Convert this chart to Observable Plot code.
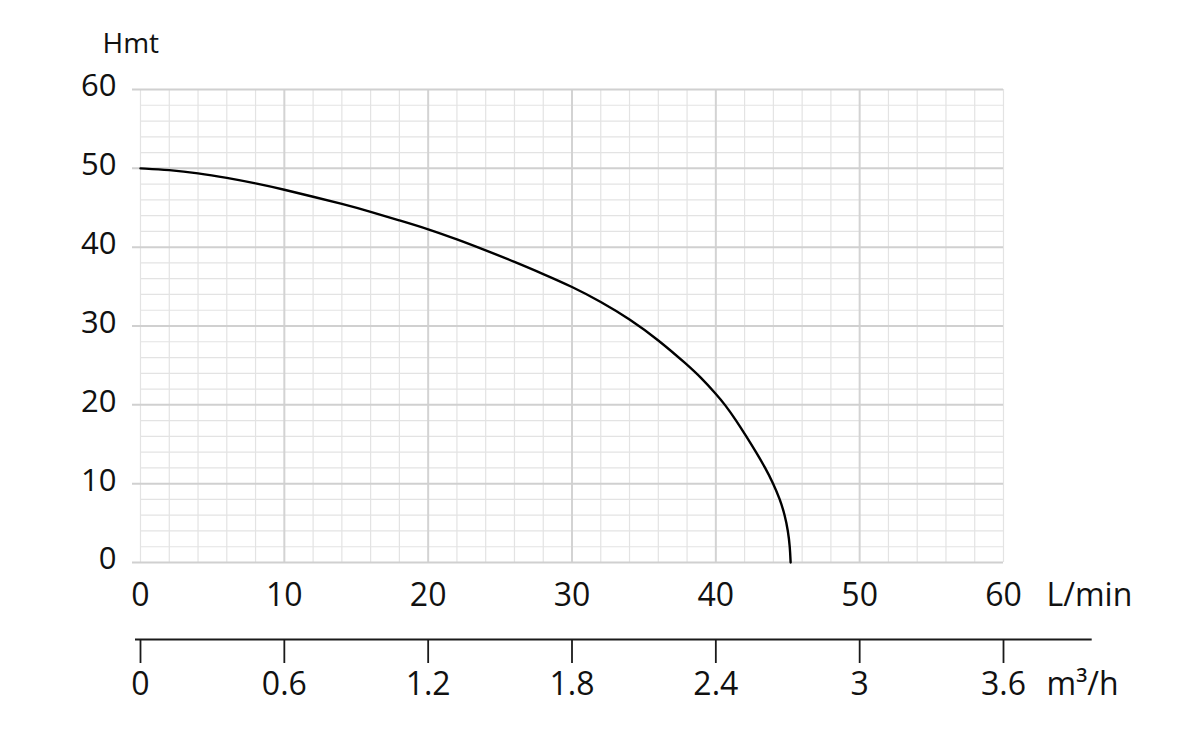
<!DOCTYPE html>
<html>
<head>
<meta charset="utf-8">
<script src="https://cdn.jsdelivr.net/npm/d3@7"></script>
<script src="https://cdn.jsdelivr.net/npm/@observablehq/plot@0.6"></script>
<style>
  body { margin: 0; background: #fff; }
  #chart svg { display: block; }
</style>
</head>
<body>
<div id="chart"></div>
<script>
// Pump curve: flow (L/min) vs total manometric head (m)
const flowLmin = [0, 2, 4, 6, 8, 10, 12, 14, 16, 18, 20, 22, 24, 26, 28, 30, 32, 34, 36, 38, 39, 40, 40.65, 41.42, 42.12, 42.8, 43.44, 44.0, 44.46, 44.8, 45.02, 45.15, 45.2];
const headM    = [50.0, 49.8, 49.4, 48.8, 48.1, 47.3, 46.4, 45.5, 44.5, 43.4, 42.3, 41.0, 39.6, 38.15, 36.6, 35.0, 33.1, 30.9, 28.25, 25.1, 23.4, 21.4, 20, 18, 16, 14, 12, 10, 8, 6, 4, 2, 0];

// Axis ticks
const xTicks = [0, 10, 20, 30, 40, 50, 60];
const yTicks = [0, 10, 20, 30, 40, 50, 60];
const xMajorGrid = [10, 20, 30, 40, 50];
const xMinorGrid = [0, 2, 4, 6, 8, 12, 14, 16, 18, 22, 24, 26, 28, 32, 34, 36, 38, 42, 44, 46, 48, 52, 54, 56, 58, 60];
const yMinorGrid = [2, 4, 6, 8, 12, 14, 16, 18, 22, 24, 26, 28, 32, 34, 36, 38, 42, 44, 46, 48, 52, 54, 56, 58];
const m3Ticks = [0, 0.6, 1.2, 1.8, 2.4, 3, 3.6];
const m3AxisEnd = [3.97];
const lminToM3h = 0.06; // 1 L/min = 0.06 m³/h
const yLabel = ["Hmt"];
const xUnit = ["L/min"];
const m3Unit = ["m³/h"];

const data = flowLmin.map((f, i) => ({flow: f, head: headM[i]}));

const chart = Plot.plot({
  width: 1200,
  height: 729,
  marginLeft: 140,
  marginRight: 197,
  marginTop: 89,
  marginBottom: 167,
  style: {fontFamily: "'Open Sans', 'Noto Sans', sans-serif", background: "#fff", color: "#111", overflow: "visible"},
  x: {domain: [0, 60], axis: null},
  y: {domain: [0, 60], axis: null},
  marks: [
    // minor grid
    Plot.ruleX(xMinorGrid, {stroke: "#e3e3e3", strokeWidth: 1.2}),
    Plot.ruleY(yMinorGrid, {stroke: "#e3e3e3", strokeWidth: 1.2}),
    // major grid
    Plot.ruleX(xMajorGrid, {stroke: "#d3d3d3", strokeWidth: 2}),
    Plot.ruleY(yTicks, {stroke: "#d0d0d0", strokeWidth: 2, insetLeft: -8}),
    // pump curve
    Plot.line(data, {x: "flow", y: "head", curve: "basis", stroke: "#000", strokeWidth: 2.4}),
    // primary axes labels
    Plot.axisX(xTicks, {anchor: "bottom", label: null, tickSize: 0, tickPadding: 21, fontSize: 32, tickFormat: d => String(d)}),
    Plot.axisY(yTicks, {anchor: "left", label: null, tickSize: 0, tickPadding: 24, fontSize: 31, dy: -3, tickFormat: d => String(d)}),
    Plot.text(yLabel, {frameAnchor: "top-left", dx: -38, dy: -45, textAnchor: "start", lineAnchor: "middle", fontSize: 28, fill: "#111"}),
    Plot.text(xUnit, {x: 60, y: 0, dx: 43, dy: 33, textAnchor: "start", lineAnchor: "middle", fontSize: 32, fill: "#111"}),
    // secondary m³/h axis
    Plot.ruleY([0], {x1: 0, x2: m3AxisEnd[0] / lminToM3h, dy: 77, insetLeft: -5, stroke: "#1a1a1a", strokeWidth: 1.8}),
    Plot.ruleX(m3Ticks, {x: d => d / lminToM3h, y1: 0, y2: 0, dy: 77, insetBottom: -24, stroke: "#1a1a1a", strokeWidth: 1.8}),
    Plot.text(m3Ticks, {x: d => d / lminToM3h, y: 0, dy: 122, text: d => String(d), lineAnchor: "middle", fontSize: 32, fill: "#111"}),
    Plot.text(m3Unit, {x: 60, y: 0, dx: 43, dy: 122, textAnchor: "start", lineAnchor: "middle", fontSize: 32, fill: "#111"})
  ]
});

document.getElementById("chart").appendChild(chart);
</script>
</body>
</html>
